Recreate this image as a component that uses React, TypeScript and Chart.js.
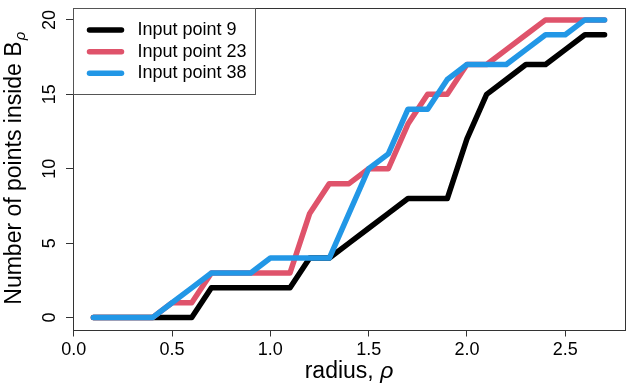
import React, { useEffect, useRef } from "react";
import { Chart, registerables } from "chart.js";

Chart.register(...registerables);

// ---- data ----
const radius = [0.1, 0.2, 0.3, 0.4, 0.5, 0.6, 0.7, 0.8, 0.9, 1.0, 1.1, 1.2, 1.3, 1.4, 1.5, 1.6, 1.7, 1.8, 1.9, 2.0, 2.1, 2.2, 2.3, 2.4, 2.5, 2.6, 2.7];
const inputPoint9 = [0, 0, 0, 0, 0, 0, 2, 2, 2, 2, 2, 4, 4, 5, 6, 7, 8, 8, 8, 12, 15, 16, 17, 17, 18, 19, 19];
const inputPoint23 = [0, 0, 0, 0, 1, 1, 3, 3, 3, 3, 3, 7, 9, 9, 10, 10, 13, 15, 15, 17, 17, 18, 19, 20, 20, 20, 20];
const inputPoint38 = [0, 0, 0, 0, 1, 2, 3, 3, 3, 4, 4, 4, 4, 7, 10, 11, 14, 14, 16, 17, 17, 17, 18, 19, 19, 20, 20];

const seriesLabels = ["Input point 9", "Input point 23", "Input point 38"];
const seriesColors = ["#000000", "#DF536B", "#2297E6"];
const seriesValues = [inputPoint9, inputPoint23, inputPoint38];

const xTicks = [0, 0.5, 1.0, 1.5, 2.0, 2.5];
const yTicks = [0, 5, 10, 15, 20];
const xRange = [-0.004, 2.804];
const yRange = [-0.8, 20.8];

const xTitle = "radius, ";
const xTitleSymbol = "ρ";
const yTitle = "Number of points inside B";
const yTitleSub = "ρ";

const FONT = '"Liberation Sans", Arial, Helvetica, sans-serif';
const FRAME = "#333333";

const decorPlugin = {
  id: "decor",
  afterDatasetsDraw(chart: any) {
    const ctx: CanvasRenderingContext2D = chart.ctx;
    const a = chart.chartArea;
    ctx.save();

    // frame
    ctx.strokeStyle = FRAME;
    ctx.lineWidth = 1;
    const l = Math.round(a.left) + 0.5;
    const t = Math.round(a.top) + 0.5;
    const r = Math.round(a.right) + 0.5;
    const b = Math.round(a.bottom) + 0.5;
    ctx.strokeRect(l, t, r - l, b - t);

    // legend
    const lw = 182;
    const lh = 86;
    ctx.fillStyle = "#ffffff";
    ctx.fillRect(l, t, lw, lh);
    ctx.strokeStyle = "#555555";
    ctx.strokeRect(l, t, lw, lh);
    ctx.font = `18px ${FONT}`;
    ctx.textBaseline = "middle";
    ctx.textAlign = "left";
    chart.data.datasets.forEach((ds: any, i: number) => {
      const cy = a.top + 22 + i * 21.67;
      ctx.beginPath();
      ctx.strokeStyle = ds.borderColor;
      ctx.lineWidth = 5.5;
      ctx.lineCap = "round";
      ctx.moveTo(a.left + 16.5, cy);
      ctx.lineTo(a.left + 48.5, cy);
      ctx.stroke();
      ctx.fillStyle = "#000000";
      ctx.fillText(ds.label, a.left + 64.5, cy);
    });

    // x title
    const titleSize = 23;
    ctx.fillStyle = "#000000";
    ctx.textBaseline = "alphabetic";
    ctx.font = `${titleSize}px ${FONT}`;
    const w1 = ctx.measureText(xTitle).width;
    ctx.font = `italic ${titleSize}px ${FONT}`;
    const w2 = ctx.measureText(xTitleSymbol).width;
    const cx = (a.left + a.right) / 2;
    const xs = cx - (w1 + w2) / 2;
    ctx.font = `${titleSize}px ${FONT}`;
    ctx.fillText(xTitle, xs, 378);
    ctx.font = `italic ${titleSize}px ${FONT}`;
    ctx.fillText(xTitleSymbol, xs + w1, 378);

    // y title (rotated, with subscript)
    const subSize = 15;
    ctx.font = `${titleSize}px ${FONT}`;
    const y1 = ctx.measureText(yTitle).width;
    ctx.font = `italic ${subSize}px ${FONT}`;
    const y2 = ctx.measureText(yTitleSub).width;
    const cyy = (a.top + a.bottom) / 2;
    ctx.translate(21, cyy);
    ctx.rotate(-Math.PI / 2);
    const ys = -(y1 + y2) / 2;
    ctx.font = `${titleSize}px ${FONT}`;
    ctx.fillText(yTitle, ys, 0);
    ctx.font = `italic ${subSize}px ${FONT}`;
    ctx.fillText(yTitleSub, ys + y1 + 1, 4);

    ctx.restore();
  },
};

export default function App() {
  const ref = useRef<HTMLCanvasElement>(null);

  useEffect(() => {
    document.body.style.margin = "0";
    const canvas = ref.current!;
    const chart = new Chart(canvas, {
      type: "line",
      data: {
        datasets: seriesValues.map((vals, i) => ({
          label: seriesLabels[i],
          data: radius.map((x, j) => ({ x, y: vals[j] })),
          borderColor: seriesColors[i],
          backgroundColor: seriesColors[i],
          borderWidth: 5.5,
          borderCapStyle: "round",
          borderJoinStyle: "round",
          pointRadius: 0,
          fill: false,
          tension: 0,
          order: seriesValues.length - i,
        })),
      },
      plugins: [decorPlugin],
      options: {
        animation: false,
        responsive: false,
        devicePixelRatio: 1,
        events: [],
        layout: { padding: { left: 0, right: 9, top: 8, bottom: 0 } },
        plugins: {
          legend: { display: false },
          tooltip: { enabled: false },
          title: { display: false },
        },
        scales: {
          x: {
            type: "linear",
            min: xRange[0],
            max: xRange[1],
            afterBuildTicks: (s: any) => {
              s.ticks = xTicks.map((v) => ({ value: v }));
            },
            afterFit: (s: any) => {
              s.height = 59.5;
              s.paddingLeft = 0;
              s.paddingRight = 0;
            },
            border: { display: false },
            grid: {
              drawOnChartArea: false,
              drawTicks: true,
              tickLength: 7,
              color: FRAME,
              lineWidth: 1,
            },
            ticks: {
              padding: 3,
              color: "#000000",
              font: { family: FONT, size: 18 },
              maxRotation: 0,
              minRotation: 0,
              autoSkip: false,
              callback: (v: any) => Number(v).toFixed(1),
            },
          },
          y: {
            type: "linear",
            min: yRange[0],
            max: yRange[1],
            afterBuildTicks: (s: any) => {
              s.ticks = yTicks.map((v) => ({ value: v }));
            },
            afterFit: (s: any) => {
              s.width = 73;
              s.paddingTop = 0;
              s.paddingBottom = 0;
            },
            border: { display: false },
            grid: {
              drawOnChartArea: false,
              drawTicks: true,
              tickLength: 7,
              color: FRAME,
              lineWidth: 1,
            },
            ticks: {
              padding: 6,
              color: "#000000",
              font: { family: FONT, size: 18 },
              minRotation: 90,
              maxRotation: 90,
              crossAlign: "center",
              autoSkip: false,
              callback: (v: any) => String(v),
            },
          },
        },
      },
    } as any);
    return () => chart.destroy();
  }, []);

  return (
    <div style={{ width: 634, height: 389 }}>
      <canvas ref={ref} width={634} height={389} style={{ display: "block" }} />
    </div>
  );
}
